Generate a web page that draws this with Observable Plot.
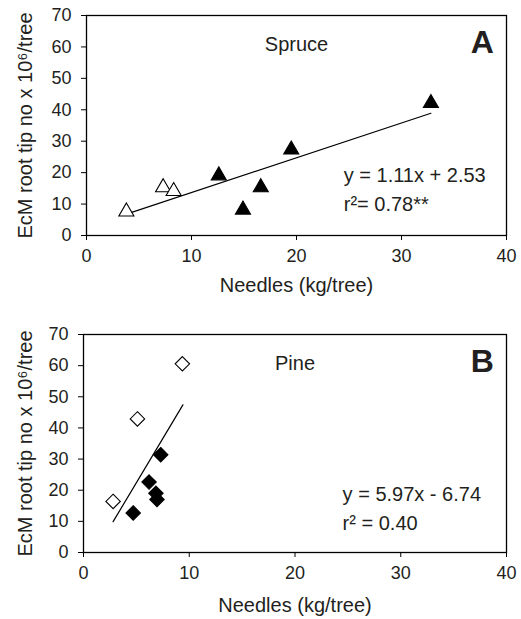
<!DOCTYPE html>
<html>
<head>
<meta charset="utf-8">
<script src="https://cdn.jsdelivr.net/npm/d3@7"></script>
<script src="https://cdn.jsdelivr.net/npm/@observablehq/plot@0.6"></script>
<style>
  html, body { margin: 0; padding: 0; background: #fff; }
  #chart svg { display: block; }
</style>
</head>
<body>
<div id="chart"></div>
<script>
// ---- Data ----
const xTicks = [0, 10, 20, 30, 40];
const yTicks = [0, 10, 20, 30, 40, 50, 60, 70];
const xLabel = "Needles (kg/tree)";
const yLabel = "EcM root tip no x 10\u2076/tree";

// Panel A: Spruce
const spruceOpenX = [3.8, 7.3, 8.3];
const spruceOpenY = [7.6, 15.3, 14.1];
const spruceFilledX = [12.6, 14.9, 16.6, 19.5, 32.8];
const spruceFilledY = [19.1, 8.2, 15.3, 27.3, 42.1];
const spruceLineX = [3.8, 32.8];
const spruceLineY = [6.8, 38.9];
const spruceName = "Spruce";
const spruceLetter = "A";
const spruceEq = ["y = 1.11x + 2.53", "r\u00B2= 0.78**"];

// Panel B: Pine
const pineOpenX = [2.8, 5.1, 9.35];
const pineOpenY = [16.4, 42.9, 60.6];
const pineFilledX = [4.7, 6.2, 6.85, 6.95, 7.3];
const pineFilledY = [12.7, 22.6, 19.0, 17.0, 31.4];
const pineLineX = [2.8, 9.4];
const pineLineY = [9.9, 47.4];
const pineName = "Pine";
const pineLetter = "B";
const pineEq = ["y = 5.97x - 6.74", "r\u00B2 = 0.40"];

const ink = "#231f20";
const font = "'Liberation Sans', Arial, sans-serif";

function panel(o) {
  const open = o.openX.map((x, i) => ({x, y: o.openY[i]}));
  const filled = o.filledX.map((x, i) => ({x, y: o.filledY[i]}));
  const line = o.lineX.map((x, i) => ({x, y: o.lineY[i]}));
  return Plot.plot({
    width: 521,
    height: o.height,
    marginLeft: o.marginLeft,
    marginRight: 15,
    marginTop: o.marginTop,
    marginBottom: o.marginBottom,
    style: {fontFamily: font, fontSize: "18px", color: ink, background: "#fff"},
    x: {domain: [0, 40]},
    y: {domain: [0, 70]},
    marks: [
      Plot.frame({stroke: "#000", strokeWidth: 1.3}),
      Plot.axisX({ticks: xTicks, tickSize: 5, tickPadding: 9, label: null, fontSize: 18, fill: ink, stroke: "#000"}),
      Plot.axisY({ticks: yTicks, tickSize: 5, tickPadding: 10, label: null, fontSize: 18, fill: ink, stroke: "#000"}),
      Plot.text([xLabel], {frameAnchor: "bottom", dy: o.xLabelDy, fontSize: 20, fill: ink, lineAnchor: "middle"}),
      Plot.text([yLabel], {frameAnchor: "left", dx: o.yLabelDx, rotate: -90, fontSize: 20, fill: ink, textAnchor: "middle", lineAnchor: "middle"}),
      Plot.line(line, {x: "x", y: "y", stroke: "#000", strokeWidth: 1.2}),
      Plot.dot(open, {x: "x", y: "y", symbol: o.symbol, r: o.r, fill: "#fff", stroke: "#000", strokeWidth: 1.1}),
      Plot.dot(filled, {x: "x", y: "y", symbol: o.symbol, r: o.r, fill: "#000", stroke: "#000", strokeWidth: 1.1}),
      Plot.text([o.name], {x: () => 20, y: () => 60.8, fontSize: 20, fill: ink, lineAnchor: "middle"}),
      Plot.text([o.letter], {x: () => 37.7, y: () => 61.4, fontSize: 32, fontWeight: "bold", fill: ink, lineAnchor: "middle"}),
      Plot.text([o.eq[0]], {x: () => 24.5, y: () => o.eqY[0], fontSize: 20, fill: ink, textAnchor: "start", lineAnchor: "middle"}),
      Plot.text([o.eq[1]], {x: () => 24.5, y: () => o.eqY[1], fontSize: 20, fill: ink, textAnchor: "start", lineAnchor: "middle"})
    ]
  });
}

const chart = document.getElementById("chart");
chart.appendChild(panel({
  height: 300, marginLeft: 86, marginTop: 15, marginBottom: 65,
  openX: spruceOpenX, openY: spruceOpenY, filledX: spruceFilledX, filledY: spruceFilledY,
  lineX: spruceLineX, lineY: spruceLineY, name: spruceName, letter: spruceLetter, eq: spruceEq,
  eqY: [19.1, 9.9], symbol: "triangle", r: 5.6, xLabelDy: 50, yLabelDx: -61
}));
chart.appendChild(panel({
  height: 319, marginLeft: 83, marginTop: 34, marginBottom: 67,
  openX: pineOpenX, openY: pineOpenY, filledX: pineFilledX, filledY: pineFilledY,
  lineX: pineLineX, lineY: pineLineY, name: pineName, letter: pineLetter, eq: pineEq,
  eqY: [18.6, 9.2], symbol: "diamond2", r: 6.5, xLabelDy: 53, yLabelDx: -58
}));
</script>
</body>
</html>
